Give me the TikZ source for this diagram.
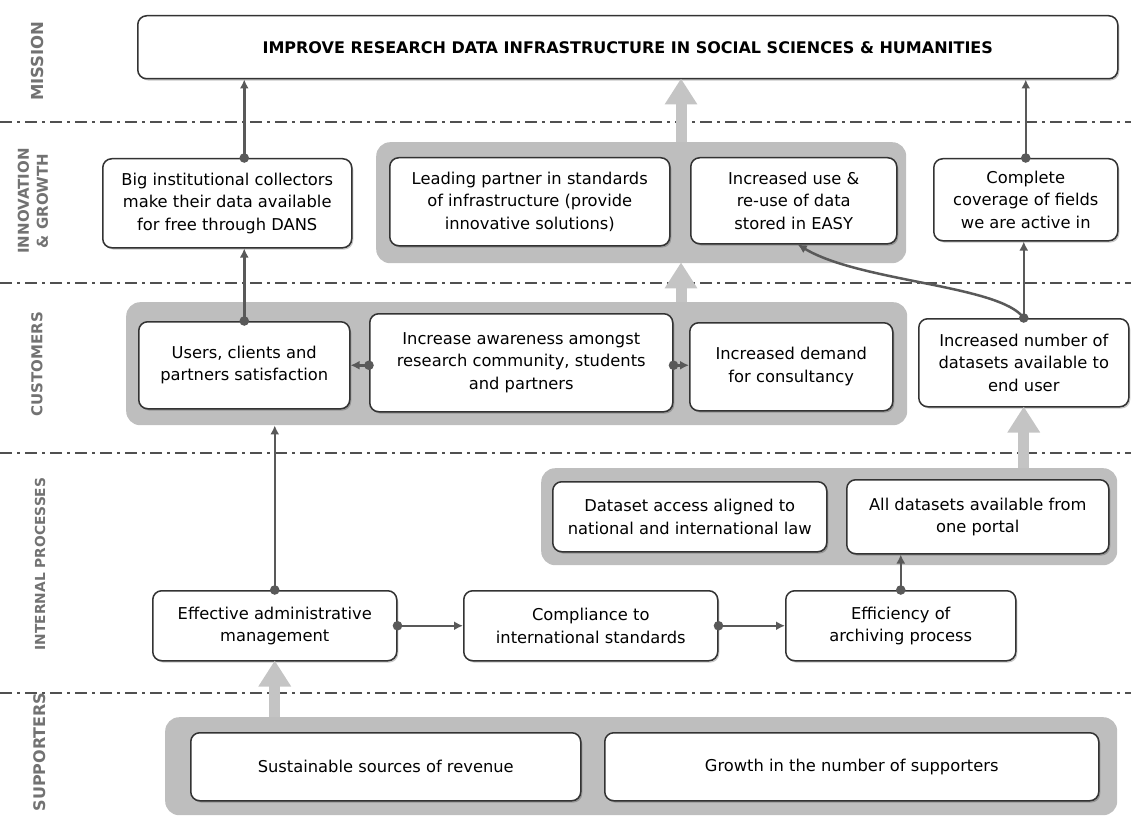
\documentclass[tikz,border=0pt]{standalone}
\usepackage{fontspec}
\setmainfont{DejaVu Sans}
\usetikzlibrary{arrows.meta,shadows}
\definecolor{grp}{HTML}{BEBEBE}
\definecolor{fatc}{HTML}{C4C4C4}
\definecolor{connc}{HTML}{595959}
\definecolor{edgec}{HTML}{333333}
\definecolor{labc}{HTML}{727272}
\definecolor{sepc}{HTML}{505050}
\begin{document}
\begin{tikzpicture}[x=1pt,y=-1pt,
  box/.style={draw=edgec, line width=1.5pt, fill=white, rounded corners=9pt, align=center,
    inner sep=0pt, anchor=north west, font=\fontsize{16.3}{22.5}\selectfont,
    drop shadow={shadow xshift=1.5pt, shadow yshift=-1.8pt, fill=black, opacity=0.22}},
  wh/.style 2 args={minimum width=#1pt, minimum height=#2pt},
  grpbox/.style={fill=grp, rounded corners=14pt, inner sep=0pt, anchor=north west},
  lab/.style={rotate=90, text=labc, font=\bfseries\fontsize{15}{19}\selectfont, align=center, inner sep=0pt},
  sepline/.style={draw=sepc, line width=1.7pt, dash pattern=on 12pt off 5pt on 3pt off 5pt},
  conn/.style={draw=connc, line width=2.5pt, -{Latex[length=9pt,width=9pt]}},
  fat/.style={draw=fatc, line width=11pt, -{Triangle[length=26pt,width=31pt]}, shorten >=-1pt},
]
\useasboundingbox (0,0) rectangle (1131,826);

% separators
\foreach \yy/\nm in {122/a,283/b,453/c,693/d}{
  \coordinate (sl\nm) at (0,\yy);
  \coordinate (sr\nm) at (1131,\yy);
  \draw[sepline] (sl\nm) -- (sr\nm);
}

% row labels
\node[lab, font=\bfseries\fontsize{16.5}{19}\selectfont] (lmission) at (37,61) {MISSION};
\node[lab] (linnov) at (33,201) {INNOVATION\\\& GROWTH};
\node[lab] (lcust) at (37,364) {CUSTOMERS};
\node[lab, font=\bfseries\fontsize{13.8}{19}\selectfont] (linternal) at (40,564) {INTERNAL PROCESSES};
\node[lab, font=\bfseries\fontsize{16}{19}\selectfont] (lsupp) at (40,752) {SUPPORTERS};

% group backgrounds
\node[grpbox, wh={530}{121}] (igrp) at (376,142) {};
\node[grpbox, wh={781}{123}] (cgrp) at (126,302) {};
\node[grpbox, wh={576}{97}] (pgrp) at (541,468) {};
\node[grpbox, wh={952}{98}] (sgrp) at (165,717) {};

% mission
\node[box, wh={980}{63}] (mission) at (137,15)
  {\bfseries\fontsize{16}{20}\selectfont IMPROVE RESEARCH DATA INFRASTRUCTURE IN SOCIAL SCIENCES \& HUMANITIES};

% innovation & growth
\node[box, wh={249}{89}] (big) at (102,158) {Big institutional collectors\\make their data available\\for free through DANS};
\node[box, wh={280}{88}] (lead) at (389,157) {Leading partner in standards\\of infrastructure (provide\\innovative solutions)};
\node[box, wh={206}{86}] (incuse) at (690,157) {Increased use \&\\re-use of data\\stored in EASY};
\node[box, wh={184}{82}] (complete) at (933,158) {Complete\\coverage of fields\\we are active in};

% customers
\node[box, wh={211}{87}] (users) at (138,321) {Users, clients and\\partners satisfaction};
\node[box, wh={303}{98}] (aware) at (369,313) {Increase awareness amongst\\research community, students\\and partners};
\node[box, wh={203}{88}] (demand) at (689,322) {Increased demand\\for consultancy};
\node[box, wh={210}{88}] (incnum) at (918,318) {Increased number of\\datasets available to\\end user};

% internal processes
\node[box, wh={274}{70}] (access) at (552,481) {Dataset access aligned to\\national and international law};
\node[box, wh={262}{74}] (alldata) at (846,479) {All datasets available from\\one portal};
\node[box, wh={244}{70}] (admin) at (152,590) {Effective administrative\\management};
\node[box, wh={254}{70}] (compl) at (463,590) {Compliance to\\international standards};
\node[box, wh={230}{70}] (effic) at (785,590) {Efficiency of\\archiving process};

% supporters
\node[box, wh={390}{68}] (revenue) at (190,732) {Sustainable sources of revenue};
\node[box, wh={494}{68}] (growth) at (604,732) {Growth in the number of supporters};

% fat arrows
\coordinate (fa) at (681,0);
\draw[fat] (sgrp.north -| admin.north) -- (admin.south);
\draw[fat] (cgrp.north -| fa) -- (igrp.south -| fa);
\draw[fat] (igrp.north -| fa) -- (mission.south -| fa);
\draw[fat] (pgrp.north -| incnum.north) -- (incnum.south);

% thin connectors
\draw[conn] (admin.north) -- (admin.north |- cgrp.south);
\fill[connc] (admin.north) circle (4.8pt);

\draw[conn] (users.north) -- (users.north |- big.south);
\fill[connc] (users.north) circle (4.8pt);

\draw[conn] (users.north |- big.north) -- (users.north |- mission.south);
\fill[connc] (users.north |- big.north) circle (4.8pt);

\draw[conn] (complete.north) -- (complete.north |- mission.south);
\fill[connc] (complete.north) circle (4.8pt);

\draw[conn] (incnum.north) -- (incnum.north |- complete.south);
\draw[conn] (incnum.north) .. controls (1000,285) and (860,282) .. ([xshift=4pt]incuse.south);
\fill[connc] (incnum.north) circle (4.8pt);

\draw[conn] (aware.west |- users.east) -- (users.east);
\fill[connc] (aware.west |- users.east) circle (4.8pt);

\draw[conn] (aware.east |- users.east) -- (demand.west |- users.east);
\fill[connc] (aware.east |- users.east) circle (4.8pt);

\draw[conn] (admin.east) -- (compl.west);
\fill[connc] (admin.east) circle (4.8pt);

\draw[conn] (compl.east) -- (effic.west);
\fill[connc] (compl.east) circle (4.8pt);

\draw[conn] (effic.north) -- (effic.north |- alldata.south);
\fill[connc] (effic.north) circle (4.8pt);
\end{tikzpicture}
\end{document}
